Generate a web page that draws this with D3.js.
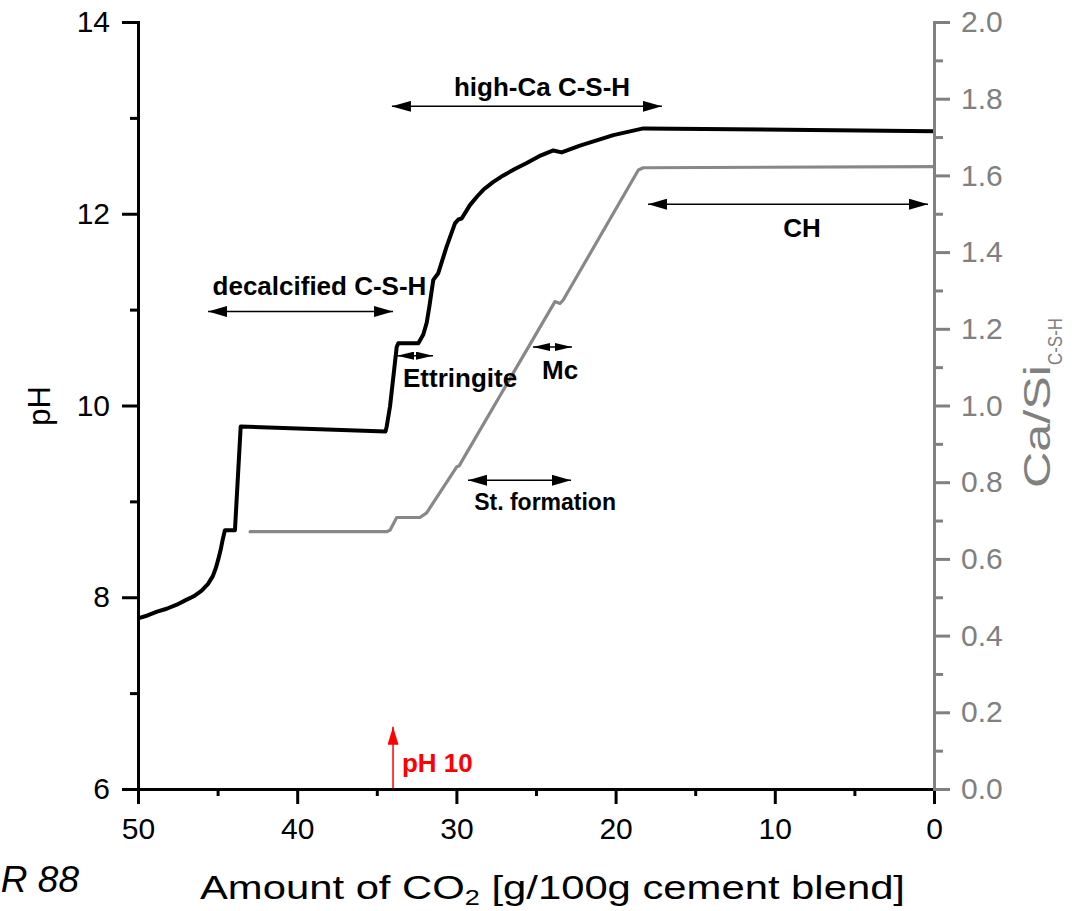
<!DOCTYPE html>
<html lang="en">
  <head>
    <meta charset="UTF-8" />
    <title>pH and Ca/Si vs CO2</title>
    <script src="https://d3js.org/d3.v7.min.js"></script>
    <style>
      body {
        margin: 0;
        background: #fff;
      }
      svg {
        font-family: "Liberation Sans", Arial, sans-serif;
      }
      .axis text {
        font-size: 30px;
      }
      .note {
        font-size: 26px;
        font-weight: bold;
        fill: #000;
      }
    </style>
  </head>
  <body>
    <svg id="chart" width="1077" height="911"></svg>
    <script>
      // pH curve (black, left axis)
      const phCO2 = [
        50, 49.4, 48.8, 48.2, 47.6, 47.0, 46.5, 46.0, 45.6, 45.3, 45.1, 44.95,
        44.8, 44.68, 44.54, 43.91, 43.55, 34.45, 34.38, 34.17, 33.96, 33.75,
        33.65, 32.39, 32.08, 31.87, 31.7, 31.55, 31.45, 31.14, 30.61, 30.09,
        29.88, 29.67, 29.15, 28.7, 28.31, 27.7, 27.05, 26.3, 25.58, 24.8, 23.91,
        23.39, 22.24, 20.14, 18.26, 0,
      ];
      const phValues = [
        7.78, 7.81, 7.85, 7.88, 7.92, 7.97, 8.01, 8.07, 8.14, 8.22, 8.31, 8.4,
        8.5, 8.6, 8.7, 8.7, 9.78, 9.73, 9.78, 9.99, 10.3, 10.61, 10.65, 10.65,
        10.74, 10.86, 11.03, 11.2, 11.31, 11.38, 11.66, 11.9, 11.94, 11.95,
        12.09, 12.18, 12.25, 12.33, 12.4, 12.47, 12.53, 12.6, 12.66, 12.64,
        12.71, 12.82, 12.89, 12.86,
      ];

      // Ca/Si of C-S-H (grey, right axis)
      const caSiCO2 = [
        42.96, 34.38, 34.17, 33.75, 32.29, 31.87, 29.98, 29.84, 23.81, 23.49,
        23.29, 18.57, 18.26, 0,
      ];
      const caSiValues = [
        0.671, 0.671, 0.675, 0.708, 0.708, 0.72, 0.84, 0.842, 1.271, 1.266,
        1.275, 1.614, 1.62, 1.623,
      ];

      // double arrows: range of CO2 and pH level
      const spanNames = ["high-Ca C-S-H", "decalcified C-S-H", "Ettringite", "Mc", "St. formation", "CH"];
      const spanFrom = [34.05, 45.6, 33.73, 25.19, 29.27, 17.96];
      const spanTo = [17.09, 33.98, 31.47, 22.74, 22.8, 0.38];
      const spanPh = [13.12, 10.98, 10.52, 10.61, 9.22, 12.1];
      const labelCO2 = [24.62, 38.6, 29.77, 23.49, 24.43, 8.29];
      const labelPh = [13.23, 11.15, 10.19, 10.28, 8.91, 11.76];

      const phTicks = [6, 8, 10, 12, 14];
      const phMinor = [7, 9, 11, 13];
      const co2Ticks = [50, 40, 30, 20, 10, 0];
      const co2Minor = [45, 35, 25, 15, 5];
      const caSiTicks = [0, 0.2, 0.4, 0.6, 0.8, 1.0, 1.2, 1.4, 1.6, 1.8, 2.0];
      const caSiMinor = [0.1, 0.3, 0.5, 0.7, 0.9, 1.1, 1.3, 1.5, 1.7, 1.9];

      const svg = d3.select("#chart");
      const grey = "#808080";

      const x = d3.scaleLinear().domain([50, 0]).range([138, 934]);
      const yPh = d3.scaleLinear().domain([6, 14]).range([789, 22]);
      const yCa = d3.scaleLinear().domain([0, 2]).range([789, 22]);

      const defs = svg.append("defs");
      function marker(id, len, half, color) {
        defs
          .append("marker")
          .attr("id", id)
          .attr("markerUnits", "userSpaceOnUse")
          .attr("markerWidth", len)
          .attr("markerHeight", half * 2)
          .attr("refX", len)
          .attr("refY", half)
          .attr("orient", "auto-start-reverse")
          .append("path")
          .attr("d", `M0,0L${len},${half}L0,${half * 2}Z`)
          .attr("fill", color);
      }
      marker("head", 19, 5.5, "#000");
      marker("headSmall", 17, 4, "#000");
      marker("headRed", 18, 5.5, "#f00");

      // curves
      const phLine = d3
        .line()
        .x((d, i) => x(phCO2[i]))
        .y((d) => yPh(d));
      svg
        .append("path")
        .attr("d", phLine(phValues))
        .attr("fill", "none")
        .attr("stroke", "#000")
        .attr("stroke-width", 4)
        .attr("stroke-linejoin", "round");

      const caLine = d3
        .line()
        .x((d, i) => x(caSiCO2[i]))
        .y((d) => yCa(d));
      svg
        .append("path")
        .attr("d", caLine(caSiValues))
        .attr("fill", "none")
        .attr("stroke", "#888")
        .attr("stroke-width", 3.2)
        .attr("stroke-linecap", "round")
        .attr("stroke-linejoin", "round");

      // annotations
      spanNames.forEach((name, i) => {
        const small = name === "Ettringite" || name === "Mc";
        svg
          .append("line")
          .attr("x1", x(spanFrom[i]))
          .attr("x2", x(spanTo[i]))
          .attr("y1", yPh(spanPh[i]))
          .attr("y2", yPh(spanPh[i]))
          .attr("stroke", "#000")
          .attr("stroke-width", 1.5)
          .attr("marker-start", small ? "url(#headSmall)" : "url(#head)")
          .attr("marker-end", small ? "url(#headSmall)" : "url(#head)");
        svg
          .append("text")
          .attr("class", "note")
          .attr("x", x(labelCO2[i]))
          .attr("y", yPh(labelPh[i]))
          .attr("text-anchor", "middle")
          .style("font-size", name === "St. formation" ? "23px" : null)
          .text(name);
      });

      // pH 10 marker
      svg
        .append("line")
        .attr("x1", x(33.98))
        .attr("x2", x(33.98))
        .attr("y1", yPh(6))
        .attr("y2", yPh(6.65))
        .attr("stroke", "#f00")
        .attr("stroke-width", 1.5)
        .attr("marker-end", "url(#headRed)");
      svg
        .append("text")
        .attr("class", "note")
        .attr("x", x(33.42))
        .attr("y", yPh(6.18))
        .style("fill", "#f00")
        .text("pH 10");

      // axes
      function styleAxis(g, color) {
        g.attr("class", "axis");
        g.selectAll("path.domain")
          .attr("stroke", color)
          .attr("stroke-width", 3)
          .attr("stroke-linecap", "square");
        g.selectAll(".tick line").attr("stroke", color).attr("stroke-width", 3);
        g.selectAll(".tick text").attr("fill", color);
        g.attr("font-size", null).attr("font-family", null);
      }

      const gx = svg
        .append("g")
        .attr("transform", "translate(0,789)")
        .call(d3.axisBottom(x).tickValues(co2Ticks).tickSize(15).tickPadding(14).tickSizeOuter(0));
      styleAxis(gx, "#000");
      const gxm = svg
        .append("g")
        .attr("transform", "translate(0,789)")
        .call(d3.axisBottom(x).tickValues(co2Minor).tickSize(7).tickFormat(""));
      styleAxis(gxm, "#000");
      gxm.select(".domain").remove();

      const gy = svg
        .append("g")
        .attr("transform", "translate(138,0)")
        .call(d3.axisLeft(yPh).tickValues(phTicks).tickSize(16).tickPadding(12).tickSizeOuter(0));
      styleAxis(gy, "#000");
      const gym = svg
        .append("g")
        .attr("transform", "translate(138,0)")
        .call(d3.axisLeft(yPh).tickValues(phMinor).tickSize(8).tickFormat(""));
      styleAxis(gym, "#000");
      gym.select(".domain").remove();

      const gr = svg
        .append("g")
        .attr("transform", "translate(934,0)")
        .call(
          d3
            .axisRight(yCa)
            .tickValues(caSiTicks)
            .tickFormat(d3.format(".1f"))
            .tickSize(16)
            .tickPadding(11)
            .tickSizeOuter(0)
        );
      styleAxis(gr, grey);
      const grm = svg
        .append("g")
        .attr("transform", "translate(934,0)")
        .call(d3.axisRight(yCa).tickValues(caSiMinor).tickSize(9).tickFormat(""));
      styleAxis(grm, grey);
      grm.select(".domain").remove();

      // titles
      svg
        .append("text")
        .attr("transform", "translate(50,406) rotate(-90)")
        .attr("text-anchor", "middle")
        .style("font-size", "31px")
        .text("pH");

      svg
        .append("text")
        .attr("transform", "translate(1050,488) rotate(-90)")
        .attr("fill", grey)
        .attr("textLength", 123)
        .attr("lengthAdjust", "spacingAndGlyphs")
        .style("font-size", "36px")
        .text("Ca/Si");
      svg
        .append("text")
        .attr("transform", "translate(1062,365) rotate(-90)")
        .attr("fill", grey)
        .attr("textLength", 47)
        .attr("lengthAdjust", "spacingAndGlyphs")
        .style("font-size", "21px")
        .text("C-S-H");

      const xt = svg
        .append("text")
        .attr("x", 200)
        .attr("y", 899)
        .attr("textLength", 705)
        .attr("lengthAdjust", "spacingAndGlyphs")
        .style("font-size", "34px");
      xt.append("tspan").text("Amount of CO");
      xt.append("tspan").attr("dy", 6).style("font-size", "22px").text("2");
      xt.append("tspan").attr("dy", -6).text(" [g/100g cement blend]");

      svg
        .append("text")
        .attr("x", 79)
        .attr("y", 892)
        .attr("text-anchor", "end")
        .style("font-size", "37px")
        .style("font-style", "italic")
        .text("R 88");
    </script>
  </body>
</html>
